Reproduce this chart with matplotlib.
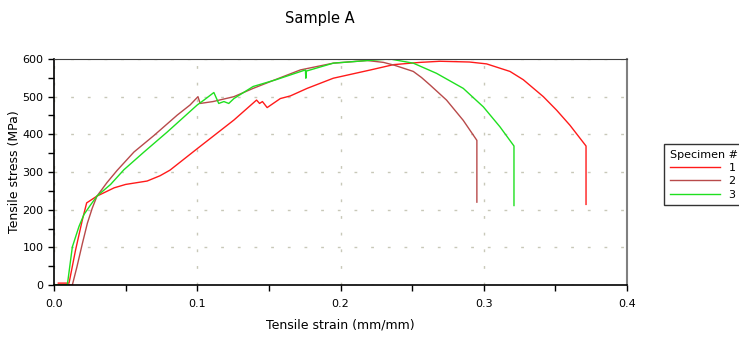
"""
Curvas tensión-deformación, Sample A (3 probetas).
"""

import matplotlib.pyplot as plt
from matplotlib.ticker import FormatStrFormatter, MultipleLocator

# probeta 1 (rojo)
strain_1 = [0.003, 0.0105, 0.015, 0.0198, 0.0228, 0.0244, 0.030, 0.042, 0.050,
            0.065, 0.074, 0.081, 0.100, 0.1256, 0.1414, 0.1435, 0.1455, 0.1488,
            0.158, 0.165, 0.1767, 0.195, 0.221, 0.237, 0.2555, 0.2695, 0.290,
            0.302, 0.3183, 0.3276, 0.3416, 0.3509, 0.3602, 0.3714, 0.3714]
stress_1 = [5, 5, 92, 173, 218, 222, 236, 258, 267,
            276, 290, 305, 362, 438, 491, 482, 487, 471,
            495, 502, 522, 549, 571, 585, 591, 594, 592,
            587, 567, 545, 500, 464, 424, 369, 214]

# probeta 2 (marrón)
strain_2 = [0.0, 0.0128, 0.016, 0.0198, 0.0233, 0.0267, 0.030, 0.037, 0.044,
            0.0558, 0.0698, 0.086, 0.095, 0.0995, 0.1005, 0.102, 0.111, 0.1256,
            0.139, 0.149, 0.172, 0.195, 0.2186, 0.230, 0.238, 0.2508, 0.2565,
            0.2625, 0.274, 0.2857, 0.2952, 0.2952]
stress_2 = [0, 0, 48, 110, 164, 204, 236, 272, 304,
            353, 397, 451, 478, 496, 500, 482, 487, 500,
            522, 537, 571, 589, 596, 591, 583, 567, 551,
            531, 491, 437, 384, 220]

# probeta 3 (verde)
strain_3 = [0.0, 0.0093, 0.0128, 0.0174, 0.0209, 0.0256, 0.030, 0.0395, 0.0488,
            0.0628, 0.079, 0.100, 0.1047, 0.1116, 0.115, 0.1186, 0.122, 0.1256,
            0.139, 0.155, 0.1755, 0.1758, 0.1762, 0.195, 0.219, 0.2345, 0.2508,
            0.267, 0.2857, 0.2997, 0.3113, 0.3211, 0.3211]
stress_3 = [0, 0, 101, 155, 187, 213, 236, 267, 306,
            353, 406, 478, 491, 511, 482, 487, 482, 495,
            527, 545, 571, 549, 568, 589, 596, 600, 589,
            562, 522, 473, 420, 369, 211]

SPECIMENS = ["1", "2", "3"]
COLORES = ["#ff1a1a", "#b84a4a", "#1fe01f"]


def main():
    fig = plt.figure(figsize=(7.39, 3.38), dpi=100)
    ax = fig.add_axes([54 / 739, 1 - 285 / 338, 573 / 739, 226 / 338])

    series = [(strain_1, stress_1), (strain_2, stress_2), (strain_3, stress_3)]
    for (x, y), lab, col in zip(series, SPECIMENS, COLORES):
        ax.plot(x, y, color=col, lw=1.0, label=lab)

    ax.set_xlim(0, 0.4)
    ax.set_ylim(0, 600)
    ax.xaxis.set_major_locator(MultipleLocator(0.1))
    ax.xaxis.set_minor_locator(MultipleLocator(0.05))
    ax.xaxis.set_major_formatter(FormatStrFormatter("%.1f"))
    ax.yaxis.set_major_locator(MultipleLocator(100))
    ax.yaxis.set_minor_locator(MultipleLocator(50))
    ax.tick_params(which="both", direction="out", length=4, width=1,
                   labelsize=8, colors="black")
    ax.tick_params(axis="x", pad=6)
    ax.grid(True, which="major", color="#c8c8b8", linestyle=(0, (2, 10)), lw=1)

    for s in ["left", "bottom"]:
        ax.spines[s].set_color("black")
        ax.spines[s].set_linewidth(1.2)
    ax.spines["top"].set_color("#404040")
    ax.spines["right"].set_color("#808080")
    ax.spines["right"].set_linewidth(1.5)

    ax.set_xlabel("Tensile strain (mm/mm)", fontsize=9, labelpad=7)
    ax.set_ylabel("Tensile stress (MPa)", fontsize=9, labelpad=1)
    fig.text(320 / 739, 1 - 18 / 338, "Sample A", ha="center", va="center",
             fontsize=10.5)

    leg = fig.legend(loc="upper left", bbox_to_anchor=(664 / 739, 1 - 144 / 338),
                     title="Specimen #", fontsize=8, title_fontsize=8,
                     frameon=True, fancybox=False, handlelength=4.5,
                     borderaxespad=0, labelspacing=0.3, borderpad=0.5,
                     alignment="left")
    leg.get_frame().set_edgecolor("black")
    leg.get_frame().set_linewidth(1.0)

    fig.savefig("out.png", dpi=100)
    plt.close(fig)


if __name__ == "__main__":
    main()
